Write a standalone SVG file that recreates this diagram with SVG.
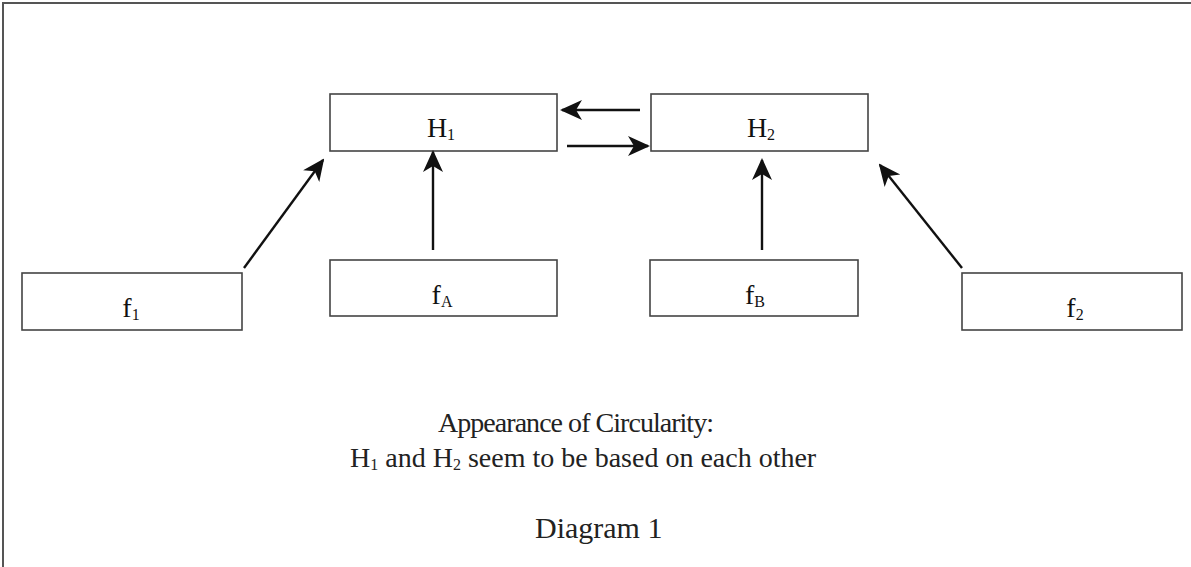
<svg xmlns="http://www.w3.org/2000/svg" width="1191" height="567" viewBox="0 0 1191 567">
<style>
.box{fill:#fff;stroke:#444;stroke-width:1.6}
.lbl{font-family:"Liberation Serif",serif;font-size:28px;fill:#111;text-anchor:middle}
.sub{font-size:16px}
.cap{font-family:"Liberation Serif",serif;font-size:28px;fill:#222}
.con{stroke:#111;stroke-width:2.4;fill:none}
</style>
<defs>
<marker id="ahb" markerWidth="22" markerHeight="22" refX="20" refY="11" orient="auto" markerUnits="userSpaceOnUse" viewBox="0 0 22 22">
<path d="M0,1 L22,11 L0,21 L6,11 Z" fill="#111"/>
</marker>
</defs>
<rect width="1191" height="567" fill="#fff"/>
<path d="M3,567 V3 H1191" fill="none" stroke="#555" stroke-width="2"/>
<g id="H1"><rect class="box" x="330" y="94" width="227" height="57"/><text class="lbl" x="441" y="137">H<tspan class="sub" dy="3">1</tspan></text></g>
<g id="H2"><rect class="box" x="651" y="94" width="217" height="57"/><text class="lbl" x="761" y="137">H<tspan class="sub" dy="3">2</tspan></text></g>
<g id="f1"><rect class="box" x="22" y="273" width="220" height="57"/><text class="lbl" x="131" y="317">f<tspan class="sub" dy="3">1</tspan></text></g>
<g id="fA"><rect class="box" x="330" y="260" width="227" height="56"/><text class="lbl" x="442" y="304">f<tspan class="sub" dy="3">A</tspan></text></g>
<g id="fB"><rect class="box" x="650" y="260" width="208" height="56"/><text class="lbl" x="755" y="304">f<tspan class="sub" dy="3">B</tspan></text></g>
<g id="f2"><rect class="box" x="962" y="273" width="220" height="57"/><text class="lbl" x="1075" y="317">f<tspan class="sub" dy="3">2</tspan></text></g>
<g id="connectors">
<line class="con" x1="640" y1="110" x2="562" y2="110" marker-end="url(#ahb)"/>
<line class="con" x1="567" y1="146" x2="648" y2="146" marker-end="url(#ahb)"/>
<line class="con" x1="244" y1="268" x2="323" y2="160" marker-end="url(#ahb)"/>
<line class="con" x1="433" y1="250" x2="433" y2="152" marker-end="url(#ahb)"/>
<line class="con" x1="762" y1="250" x2="762" y2="160" marker-end="url(#ahb)"/>
<line class="con" x1="962" y1="268" x2="880" y2="165" marker-end="url(#ahb)"/>
</g>
<g id="caption">
<text class="cap" x="438" y="432" textLength="276" lengthAdjust="spacing">Appearance of Circularity:</text>
<text class="cap" x="350" y="467">H<tspan class="sub" dy="3">1</tspan><tspan dy="-3"> and H</tspan><tspan class="sub" dy="3">2</tspan><tspan dy="-3"> seem to be based on each other</tspan></text>
<text class="cap" x="535" y="538" style="font-size:30px">Diagram 1</text>
</g>
</svg>
